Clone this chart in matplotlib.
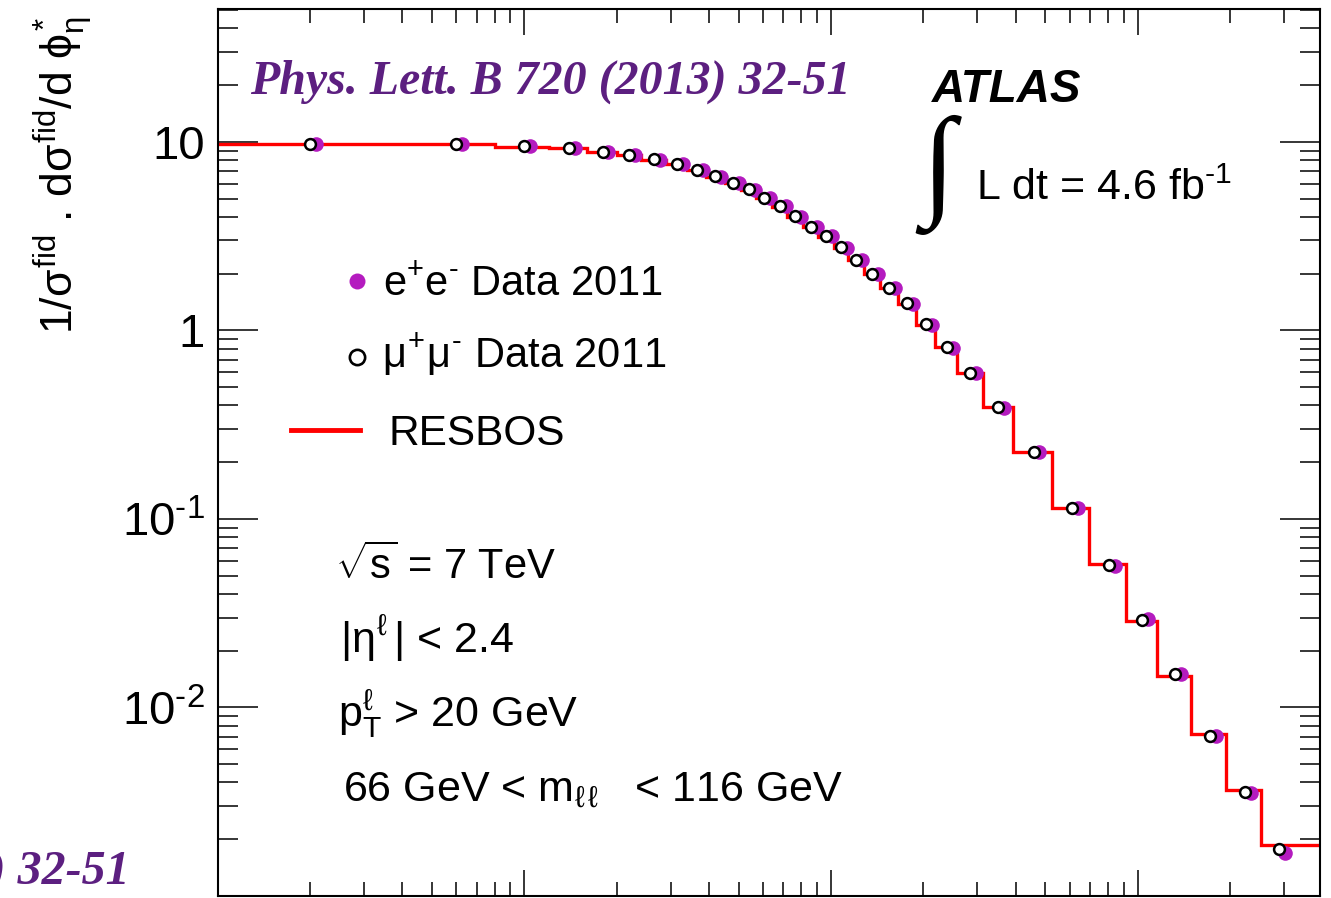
import matplotlib
matplotlib.use('Agg')
import matplotlib.pyplot as plt
import matplotlib.transforms as mtransforms
from matplotlib.lines import Line2D
from matplotlib.ticker import LogLocator, FixedLocator, FixedFormatter, NullFormatter
import numpy as np

plt.rcParams['font.family'] = ['Liberation Sans', 'DejaVu Sans']
plt.rcParams['mathtext.fontset'] = 'custom'
plt.rcParams['mathtext.rm'] = 'Liberation Sans'
plt.rcParams['mathtext.it'] = 'Liberation Sans'
plt.rcParams['mathtext.bf'] = 'Liberation Sans:bold'

# phi*_eta binning of the measurement
phi_edges = [0.0, 0.004, 0.008, 0.012, 0.016, 0.020, 0.024, 0.029, 0.034, 0.039,
             0.045, 0.051, 0.057, 0.064, 0.072, 0.081, 0.091, 0.102, 0.114, 0.128,
             0.145, 0.165, 0.189, 0.219, 0.258, 0.312, 0.391, 0.524, 0.695, 0.918,
             1.153, 1.496, 1.947, 2.522, 3.277]

# normalised cross sections, muon channel
mumu_data = [9.80, 9.80, 9.52, 9.34, 8.85, 8.57, 8.09, 7.68, 7.13, 6.58,
             6.08, 5.61, 5.07, 4.56, 4.03, 3.54, 3.16, 2.77, 2.37, 2.00,
             1.68, 1.39, 1.08, 0.815, 0.595, 0.392, 0.227, 0.115, 0.057, 0.0290,
             0.0150, 0.00703, 0.00357, 0.00178]

# electron channel
ee_data = [9.78, 9.76, 9.50, 9.30, 8.83, 8.55, 8.05, 7.66, 7.10, 6.55,
           6.06, 5.58, 5.05, 4.55, 4.01, 3.52, 3.15, 2.75, 2.36, 1.99,
           1.67, 1.38, 1.07, 0.810, 0.592, 0.390, 0.226, 0.114, 0.0565, 0.0294,
           0.0151, 0.00708, 0.00352, 0.00170]

# RESBOS prediction (last bin runs past the plotted range)
resbos_edges = [0.0, 0.004, 0.008, 0.012, 0.016, 0.020, 0.024, 0.029, 0.034, 0.039,
                0.045, 0.051, 0.057, 0.064, 0.072, 0.081, 0.091, 0.102, 0.114, 0.128,
                0.145, 0.165, 0.189, 0.219, 0.258, 0.312, 0.391, 0.524, 0.695, 0.918,
                1.153, 1.496, 1.947, 2.522, 5.0]
resbos = [9.72, 9.70, 9.45, 9.25, 8.80, 8.50, 8.05, 7.62, 7.10, 6.55,
          6.05, 5.58, 5.05, 4.53, 4.00, 3.52, 3.14, 2.75, 2.35, 1.99,
          1.67, 1.38, 1.07, 0.815, 0.595, 0.392, 0.227, 0.115, 0.0575, 0.0286,
          0.0146, 0.00726, 0.00366, 0.00187]

y_ticks = [1e-3, 1e-2, 1e-1, 1.0, 10.0]
y_tick_labels = ['', '10$^{\u20102}$', '10$^{\u20101}$', '1', '10']

W, H = 1331, 898
MAGENTA = '#b41bbf'
PURPLE = '#5c1f80'


def fx(px):
    return px / W


def fy(py):
    return 1 - py / H


fig = plt.figure(figsize=(W / 100, H / 100), dpi=100)
ax = fig.add_axes([fx(217.5), fy(896), (1320 - 217.5) / W, (896 - 9) / H])
ax.set_xscale('log')
ax.set_yscale('log')
ax.set_xlim(1e-3, 3.93)
ax.set_ylim(1e-3, 50.7)

edges = np.array(phi_edges)
centers = 0.5 * (edges[:-1] + edges[1:])

ax.stairs(resbos, resbos_edges, color='red', lw=2.4, zorder=2)
shifted = mtransforms.offset_copy(ax.transData, fig=fig, x=4.3, y=0, units='points')
ax.plot(centers, ee_data, 'o', color=MAGENTA, ms=10.5, mec='none',
        transform=shifted, zorder=3)
ax.plot(centers, mumu_data, 'o', mfc='white', mec='black', mew=1.8, ms=7.8, zorder=4)

# axes frame and ticks
for sp in ax.spines.values():
    sp.set_linewidth(1.5)
ax.yaxis.set_major_locator(FixedLocator(y_ticks))
ax.yaxis.set_major_formatter(FixedFormatter(y_tick_labels))
ax.yaxis.set_minor_locator(LogLocator(base=10, subs=np.arange(2, 10), numticks=20))
ax.yaxis.set_minor_formatter(NullFormatter())
ax.xaxis.set_minor_locator(LogLocator(base=10, subs=np.arange(2, 10), numticks=20))
ax.xaxis.set_minor_formatter(NullFormatter())
ax.tick_params(which='both', direction='in', top=True, right=True, width=1.1,
               labelsize=34, labelbottom=False)
ax.tick_params(axis='y', which='major', length=28.8, pad=9)
ax.tick_params(axis='y', which='minor', length=14.4)
ax.tick_params(axis='x', which='major', length=18.7)
ax.tick_params(axis='x', which='minor', length=9.9)

# y-axis title
fig.text(fx(64), fy(334), r'1/$\sigma^{\rm fid}$ . d$\sigma^{\rm fid}$/d $\phi^{*}_{\eta}$',
         rotation=90, ha='center', va='bottom', fontsize=32)

# legend
fig.add_artist(Line2D([fx(357)], [fy(281)], marker='o', color=MAGENTA, ms=11.5, mec='none',
                      transform=fig.transFigure))
fig.add_artist(Line2D([fx(357)], [fy(357)], marker='o', mfc='white', mec='black',
                      mew=1.9, ms=11, transform=fig.transFigure))
fig.add_artist(Line2D([fx(291), fx(360)], [fy(430), fy(430)], color='red', lw=3.5,
                      transform=fig.transFigure))
fig.text(fx(383), fy(295), 'e$^{+}$e$^{\u2010}$ Data 2011', fontsize=30, va='baseline')
fig.text(fx(382), fy(367), '$\\mu^{+}\\mu^{\u2010}$ Data 2011', fontsize=30, va='baseline')
fig.text(fx(389), fy(445), 'RESBOS', fontsize=30.5, va='baseline')

# experiment label and luminosity
fig.text(fx(932), fy(102), 'ATLAS', fontsize=33, fontweight='bold', fontstyle='italic',
         va='baseline')
fig.text(fx(938), fy(175), '\u222b', fontsize=88, ha='center', va='center',
         family='Liberation Serif')
fig.text(fx(976), fy(200), 'L dt = 4.6 fb$^{\u20101}$', fontsize=31, va='baseline')

# selection
fig.text(fx(335), fy(579), r'$\sqrt{s}$ = 7 TeV', fontsize=30, va='baseline')
fig.text(fx(340), fy(653), r'|$\eta^{\ell}\,$| < 2.4', fontsize=31, va='baseline')
fig.text(fx(338), fy(727), r'p$_{\rm T}^{\ell}$ > 20 GeV', fontsize=31, va='baseline')
fig.text(fx(343), fy(801), r'66 GeV < m$_{\ell\,\ell}\ \ $ < 116 GeV', fontsize=31,
         va='baseline')

# journal reference
ref = 'Phys. Lett. B 720 (2013) 32-51'
fig.text(fx(250), fy(94), ref, fontsize=34.5, color=PURPLE, family='Liberation Serif',
         fontweight='bold', fontstyle='italic', va='baseline')
fig.text(fx(130), fy(884), ref, fontsize=34.5, color=PURPLE, family='Liberation Serif',
         fontweight='bold', fontstyle='italic', va='baseline', ha='right')

fig.savefig('out.png', dpi=100)
